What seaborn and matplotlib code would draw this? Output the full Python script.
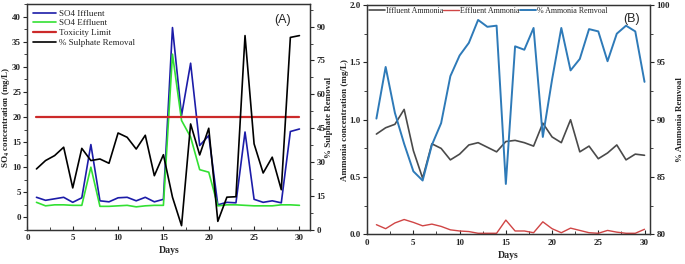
import numpy as np
import pandas as pd
import matplotlib
matplotlib.use('Agg')
import matplotlib.pyplot as plt
import seaborn as sns
from matplotlib.ticker import MultipleLocator, AutoMinorLocator, FormatStrFormatter

sns.set_style('ticks')
plt.rcParams['font.family'] = ['Liberation Serif', 'DejaVu Serif']
plt.rcParams['mathtext.fontset'] = 'stix'
plt.rcParams['mathtext.default'] = 'bf'

days = list(range(1, 31))

# panel A - sulphate
so4_influent = [4.0, 3.4, 3.7, 4.0, 3.0, 3.9, 14.5, 3.3, 3.1, 3.9,
                4.0, 3.3, 4.0, 3.1, 3.6, 37.8, 20.3, 30.7, 14.3, 16.3,
                2.5, 3.0, 2.9, 17.0, 3.6, 3.0, 3.3, 2.9, 17.1, 17.6]
so4_effluent = [3.0, 2.3, 2.5, 2.5, 2.4, 2.4, 10.0, 2.2, 2.2, 2.3,
                2.4, 2.1, 2.3, 2.4, 2.4, 32.5, 19.3, 16.0, 9.5, 9.0,
                2.3, 2.5, 2.5, 2.4, 2.3, 2.3, 2.3, 2.5, 2.5, 2.4]
toxicity_limit = 20
sulphate_removal = [27.0, 30.7, 32.9, 36.6, 18.6, 36.1, 30.7, 31.4, 29.5, 42.9,
                    41.0, 35.8, 41.9, 24.0, 33.3, 14.5, 1.9, 46.9, 33.2, 45.0,
                    3.8, 14.5, 14.7, 86.0, 38.1, 25.2, 32.2, 17.8, 85.2, 86.0]

# panel B - ammonia
influent_ammonia = [0.875, 0.93, 0.96, 1.09, 0.73, 0.49, 0.79, 0.75, 0.65, 0.70,
                    0.78, 0.80, 0.76, 0.72, 0.81, 0.82, 0.80, 0.77, 0.97, 0.85,
                    0.80, 1.00, 0.72, 0.77, 0.66, 0.71, 0.78, 0.65, 0.70, 0.69]
effluent_ammonia = [0.085, 0.05, 0.10, 0.13, 0.105, 0.075, 0.09, 0.07, 0.04, 0.03,
                    0.025, 0.01, 0.01, 0.01, 0.125, 0.03, 0.03, 0.015, 0.11, 0.05,
                    0.015, 0.055, 0.035, 0.015, 0.01, 0.035, 0.02, 0.01, 0.01, 0.045]
ammonia_removal = [90.1, 94.6, 90.6, 87.9, 85.5, 84.7, 87.8, 89.7, 93.8, 95.6,
                   96.7, 98.7, 98.1, 98.2, 84.4, 96.4, 96.1, 98.0, 88.5, 93.5,
                   98.0, 94.3, 95.3, 97.9, 97.7, 95.1, 97.5, 98.2, 97.7, 93.3]

df_a = pd.DataFrame({'day': days, 'inf': so4_influent, 'eff': so4_effluent,
                     'lim': [toxicity_limit] * len(days), 'rem': sulphate_removal})
df_b = pd.DataFrame({'day': days, 'inf': influent_ammonia, 'eff': effluent_ammonia,
                     'rem': ammonia_removal})

label_font = dict(fontsize=7, fontweight='bold')
ylab_font = dict(fontsize=6.5, fontweight='bold')

fig = plt.figure(figsize=(6.85, 2.64), dpi=100)
ax1 = fig.add_axes([0.040, 0.129, 0.413, 0.856])
ax2 = fig.add_axes([0.536, 0.112, 0.413, 0.869])


def style_axes(ax):
    for s in ax.spines.values():
        s.set_linewidth(0.9)
        s.set_color('#333333')
    ax.tick_params(axis='y', direction='out', length=3, width=0.8, pad=1.5)
    ax.tick_params(axis='y', which='minor', direction='out', length=2, width=0.6)
    ax.tick_params(axis='x', direction='in', length=3, width=0.8, pad=3)
    ax.tick_params(axis='x', which='minor', direction='in', length=2, width=0.6)
    ax.tick_params(labelsize=6.5)
    for t in ax.get_yticklabels() + ax.get_xticklabels():
        t.set_fontweight('bold')


# ---- panel A
sns.lineplot(data=df_a, x='day', y='inf', ax=ax1, color='#1c1ca8', lw=1.2, label='SO4 Iffluent', legend=False)
sns.lineplot(data=df_a, x='day', y='eff', ax=ax1, color='#33e033', lw=1.2, label='SO4 Effluent', legend=False)
sns.lineplot(data=df_a, x='day', y='lim', ax=ax1, color='#cc2a2a', lw=1.6, label='Toxicity Limit', legend=False)
ax1r = ax1.twinx()
sns.lineplot(data=df_a, x='day', y='rem', ax=ax1r, color='black', lw=1.2, label='% Sulphate Removal', legend=False)

ax1.set_xlim(0, 31.2)
ax1.set_ylim(-2.5, 42.5)
ax1r.set_ylim(0, 100)
ax1.xaxis.set_major_locator(MultipleLocator(5))
ax1.xaxis.set_minor_locator(AutoMinorLocator(2))
ax1.yaxis.set_major_locator(MultipleLocator(5))
ax1.yaxis.set_minor_locator(AutoMinorLocator(2))
ax1r.yaxis.set_major_locator(MultipleLocator(15))
ax1r.yaxis.set_minor_locator(AutoMinorLocator(2))
ax1.set_xlabel('Days', **label_font, labelpad=3)
ax1.set_ylabel('SO$_4$ concentration (mg/L)', **ylab_font)
ax1r.set_ylabel('% Sulphate Removal', **ylab_font)
ax1.yaxis.set_label_coords(-0.055, 0.5)
ax1r.yaxis.set_label_coords(1.052, 0.5)
for a in (ax1, ax1r):
    style_axes(a)
ax1.text(0.93, 0.93, '(A)', transform=ax1.transAxes, ha='right', va='center',
         fontsize=9, family='Liberation Sans')

h1, l1 = ax1.get_legend_handles_labels()
h2, l2 = ax1r.get_legend_handles_labels()
ax1.legend(h1 + h2, l1 + l2, loc='upper left', frameon=False, fontsize=6.5,
           handlelength=2.6, labelspacing=0.15, borderaxespad=0.2, handletextpad=0.3)

# ---- panel B
sns.lineplot(data=df_b, x='day', y='inf', ax=ax2, color='#4a4a4a', lw=1.2, label='Iffluent Ammonia', legend=False)
sns.lineplot(data=df_b, x='day', y='eff', ax=ax2, color='#d04545', lw=1.0, label='Effluent Ammonia', legend=False)
ax2r = ax2.twinx()
sns.lineplot(data=df_b, x='day', y='rem', ax=ax2r, color='#2e7ab8', lw=1.4, label='% Ammonia Remvoal', legend=False)

ax2.set_xlim(0, 30.6)
ax2.set_ylim(0, 2.0)
ax2r.set_ylim(80, 100)
ax2.xaxis.set_major_locator(MultipleLocator(5))
ax2.xaxis.set_minor_locator(AutoMinorLocator(2))
ax2.yaxis.set_major_locator(MultipleLocator(0.5))
ax2.yaxis.set_minor_locator(AutoMinorLocator(2))
ax2.yaxis.set_major_formatter(FormatStrFormatter('%.1f'))
ax2r.yaxis.set_major_locator(MultipleLocator(5))
ax2r.yaxis.set_minor_locator(AutoMinorLocator(2))
ax2.set_xlabel('Days', **label_font, labelpad=3)
ax2.set_ylabel('Ammonia concentration (mg/L)', **ylab_font)
ax2r.set_ylabel('% Ammonia Remvoal', **ylab_font)
ax2.yaxis.set_label_coords(-0.064, 0.5)
ax2r.yaxis.set_label_coords(1.09, 0.5)
for a in (ax2, ax2r):
    style_axes(a)
ax2.text(0.965, 0.94, '(B)', transform=ax2.transAxes, ha='right', va='center',
         fontsize=9, family='Liberation Sans')

h1, l1 = ax2.get_legend_handles_labels()
h2, l2 = ax2r.get_legend_handles_labels()
ax2.legend(h1 + h2, l1 + l2, loc='upper left', frameon=False, fontsize=5.8, ncol=3,
           handlelength=2.0, columnspacing=0.0, borderaxespad=0.1, borderpad=0.1,
           handletextpad=0.1)

fig.savefig('out.png', dpi=100)
